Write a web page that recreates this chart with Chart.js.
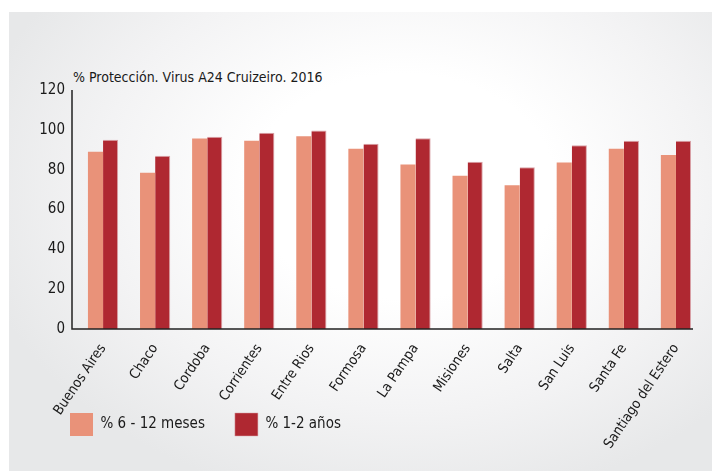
<!DOCTYPE html>
<html>
<head>
  <meta charset="utf-8">
  <title>% Protección. Virus A24 Cruizeiro. 2016</title>
  <script src="https://cdn.jsdelivr.net/npm/chart.js"></script>
  <style>
    html, body { margin: 0; padding: 0; background: #fff; }
    #wrap { position: relative; width: 712px; height: 471px; overflow: hidden; }
    #panel {
      position: absolute; left: 9px; top: 12px; width: 703px; height: 459px;
      background: radial-gradient(ellipse 62% 70% at 56% 38%, #ffffff 35%, #f3f3f4 70%, #e7e8e9 100%);
    }
    #titulo {
      position: absolute; left: 73px; top: 69px;
      font: 14px "DejaVu Sans Condensed", sans-serif; color: #1a1a1a;
    }
    canvas { position: absolute; left: 0; top: 0; }
  </style>
</head>
<body>
<div id="wrap">
  <div id="panel"></div>
  <div id="titulo">% Protección. Virus A24 Cruizeiro. 2016</div>
  <canvas id="grafico" width="712" height="471"></canvas>
</div>

<script>
  // datos
  const provincias = ['Buenos Aires', 'Chaco', 'Cordoba', 'Corrientes', 'Entre Rios', 'Formosa',
                      'La Pampa', 'Misiones', 'Salta', 'San Luis', 'Santa Fe', 'Santiago del Estero'];
  const meses6a12 = [89, 78.5, 95.7, 94.5, 96.8, 90.5, 82.6, 76.9, 72.2, 83.6, 90.5, 87.3];
  const anios1a2  = [95, 87, 96.5, 98.5, 99.7, 93, 95.8, 84, 81.2, 92.3, 94.5, 94.5];
  const ticksY = [0, 20, 40, 60, 80, 100, 120];

  const fuente = '"DejaVu Sans Condensed", sans-serif';

  // lineas de los ejes, un poco corridas a la izquierda del area de barras
  const ejes = {
    id: 'ejes',
    afterDraw(chart) {
      const { ctx, chartArea } = chart;
      const x0 = chartArea.left - 5;
      ctx.save();
      ctx.strokeStyle = '#222';
      ctx.lineWidth = 1.5;
      ctx.beginPath();
      ctx.moveTo(x0, chartArea.top);
      ctx.lineTo(x0, chartArea.bottom);
      ctx.lineTo(chartArea.right - 9, chartArea.bottom);
      ctx.stroke();
      ctx.restore();
    }
  };

  // la leyenda va a la altura de las etiquetas giradas, no debajo
  const subirLeyenda = {
    id: 'subirLeyenda',
    afterLayout(chart) {
      const lg = chart.legend;
      const h = lg.bottom - lg.top;
      lg.top = chart.chartArea.bottom + 54;
      lg.bottom = lg.top + h;
    }
  };

  new Chart(document.getElementById('grafico'), {
    type: 'bar',
    data: {
      labels: provincias,
      datasets: [{
        label: '% 6 - 12 meses',
        data: meses6a12,
        backgroundColor: '#E99279',
        borderWidth: 0,
        categoryPercentage: 0.58,
        barPercentage: 1.0
      }, {
        label: '% 1-2 años',
        data: anios1a2,
        backgroundColor: '#AF2831',
        borderColor: '#d9a3a8',
        borderWidth: { top: 1, right: 1 },
        categoryPercentage: 0.58,
        barPercentage: 1.0
      }]
    },
    options: {
      responsive: false,
      animation: false,
      layout: { padding: { left: 40, right: 10, top: 90, bottom: -48 } },
      plugins: {
        title: { display: false },
        tooltip: { enabled: false },
        legend: {
          position: 'bottom',
          align: 'start',
          labels: {
            boxWidth: 23,
            boxHeight: 23,
            padding: 30,
            color: '#1a1a1a',
            font: { family: fuente, size: 15 }
          }
        }
      },
      scales: {
        x: {
          offset: true,
          grid: { display: false },
          border: { display: false },
          ticks: {
            color: '#1a1a1a',
            font: { family: fuente, size: 14 },
            maxRotation: 56,
            minRotation: 56,
            padding: 4
          },
          afterFit(scale) {
            scale.paddingLeft = 0;
            scale.paddingRight = 0;
          }
        },
        y: {
          min: 0,
          max: 120,
          grid: { display: false, drawTicks: false },
          border: { display: false },
          afterBuildTicks(scale) { scale.ticks = ticksY.map(v => ({ value: v })); },
          afterFit(scale) { scale.width = 37; },
          ticks: {
            color: '#1a1a1a',
            font: { family: fuente, size: 15 },
            padding: 12
          }
        }
      }
    },
    plugins: [ejes, subirLeyenda]
  });
</script>
</body>
</html>
